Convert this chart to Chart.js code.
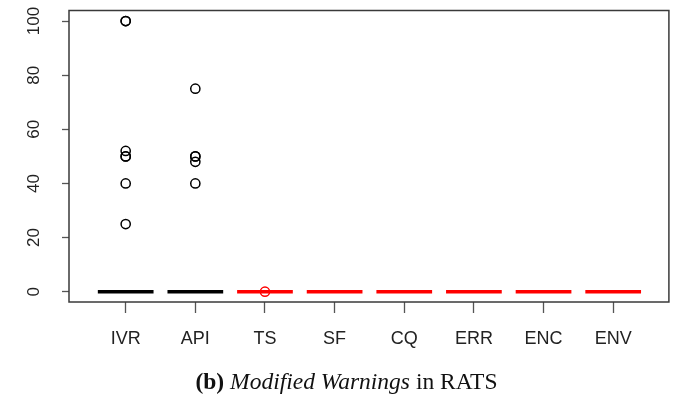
<!DOCTYPE html>
<html>
<head>
<meta charset="utf-8">
<script src="https://cdn.jsdelivr.net/npm/chart.js@4.4.0/dist/chart.umd.min.js"></script>
<style>
  html, body { margin: 0; padding: 0; background: #fff; }
  #wrap { position: relative; width: 675px; height: 399px; }
  #chart { position: absolute; left: 0; top: 0; }
  #caption {
    position: absolute; left: 9px; width: 675px; top: 366px;
    text-align: center; font-family: "Liberation Serif", "DejaVu Serif", serif;
    font-size: 23.5px; line-height: 30px; color: #111; white-space: nowrap;
  }
  #caption b { font-weight: bold; }
  #caption i { font-style: italic; }
</style>
</head>
<body>
<div id="wrap">
  <canvas id="chart" width="675" height="399"></canvas>
  <div id="caption"><b>(b)</b> <i>Modified Warnings</i> in RATS</div>
</div>
<script>
// Warning categories along the x axis
const categories = ['IVR', 'API', 'TS', 'SF', 'CQ', 'ERR', 'ENC', 'ENV'];
// Median of each category (boxes collapse onto the median)
const medians = [0, 0, 0, 0, 0, 0, 0, 0];
// Outlying observations per category
const outliers = [
  [100, 100, 52, 50, 50, 40, 25],
  [75, 50, 50, 48, 40],
  [0],
  [], [], [], [], []
];
// Box colour per category
const boxColors = ['#000000', '#000000', '#ff0000', '#ff0000', '#ff0000', '#ff0000', '#ff0000', '#ff0000'];
// Y axis tick values
const yTicks = [0, 20, 40, 60, 80, 100];

const HALF_BOX = 0.4;

const datasets = [];
categories.forEach((c, i) => {
  datasets.push({
    type: 'line',
    label: c + ' median',
    data: [{ x: i - HALF_BOX, y: medians[i] }, { x: i + HALF_BOX, y: medians[i] }],
    borderColor: boxColors[i],
    borderWidth: 3.5,
    borderCapStyle: 'butt',
    pointRadius: 0,
    fill: false
  });
});
categories.forEach((c, i) => {
  if (!outliers[i].length) return;
  datasets.push({
    type: 'scatter',
    label: c + ' outliers',
    data: outliers[i].map(v => ({ x: i, y: v })),
    pointStyle: 'circle',
    pointRadius: 4.6,
    pointBorderWidth: 1.5,
    pointBorderColor: boxColors[i],
    pointBackgroundColor: 'rgba(0,0,0,0)',
    showLine: false
  });
});

// Frame round the plotting region and vertical y tick labels
const frame = {
  id: 'frame',
  afterDraw(chart) {
    const a = chart.chartArea, ctx = chart.ctx;
    ctx.save();
    ctx.strokeStyle = '#3a3a3a';
    ctx.lineWidth = 1.5;
    ctx.strokeRect(a.left, a.top, a.right - a.left, a.bottom - a.top);
    const y = chart.scales.y;
    ctx.fillStyle = '#222';
    ctx.font = '17px "Liberation Sans"';
    ctx.textAlign = 'center';
    ctx.textBaseline = 'middle';
    yTicks.forEach(v => {
      ctx.save();
      ctx.translate(34, y.getPixelForValue(v));
      ctx.rotate(-Math.PI / 2);
      ctx.fillText(String(v), 0, 0);
      ctx.restore();
    });
    ctx.restore();
  }
};

new Chart(document.getElementById('chart'), {
  type: 'scatter',
  data: { datasets },
  plugins: [frame],
  options: {
    responsive: false,
    animation: false,
    layout: { padding: { top: 10.5, right: 4, left: 0, bottom: 0 } },
    plugins: { legend: { display: false }, tooltip: { enabled: false } },
    scales: {
      x: {
        type: 'linear',
        min: -0.814,
        max: 7.8,
        afterBuildTicks: s => { s.ticks = categories.map((_, i) => ({ value: i })); },
        afterFit: s => { s.height = 97; },
        ticks: {
          callback: v => categories[v],
          color: '#222',
          font: { family: 'Liberation Sans', size: 18 },
          padding: 15,
          maxRotation: 0
        },
        grid: { drawOnChartArea: false, drawTicks: true, tickLength: 11, tickColor: '#555', tickWidth: 1.3 },
        border: { display: false }
      },
      y: {
        min: -3.8,
        max: 103.9,
        afterBuildTicks: s => { s.ticks = yTicks.map(v => ({ value: v })); },
        afterFit: s => { s.width = 69; },
        ticks: { display: false },
        grid: { drawOnChartArea: false, drawTicks: true, tickLength: 7, tickColor: '#555', tickWidth: 1.3 },
        border: { display: false }
      }
    }
  }
});
</script>
</body>
</html>
